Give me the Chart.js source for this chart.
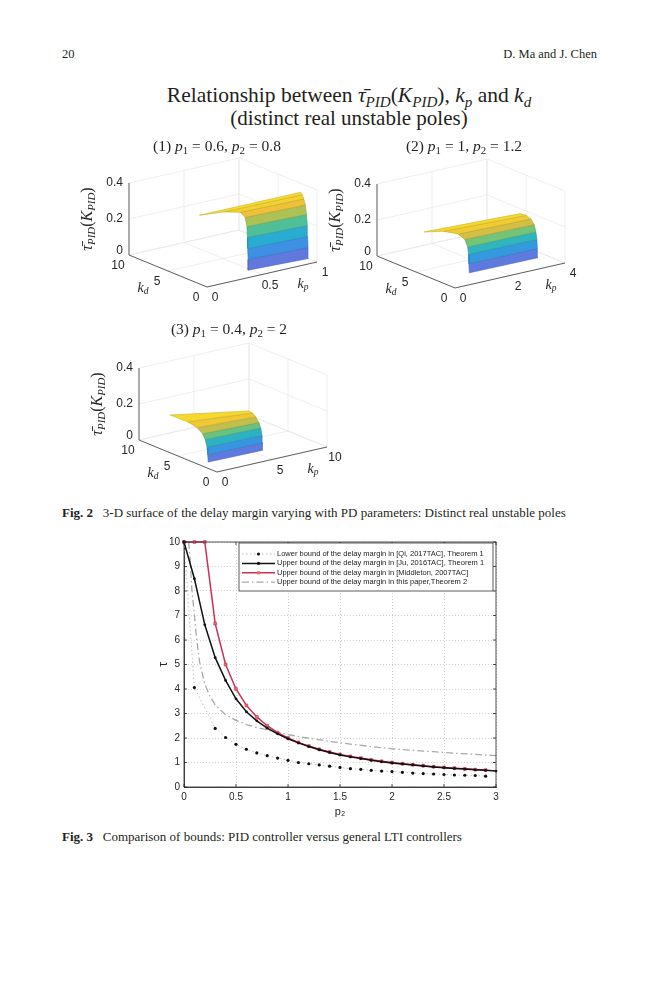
<!DOCTYPE html>
<html>
<head>
<meta charset="utf-8">
<script src="https://cdn.jsdelivr.net/npm/chart.js@4.4.0/dist/chart.umd.min.js"></script>
<style>
  body { margin: 0; width: 659px; height: 1000px; position: relative; overflow: hidden; background: #fff;
         font-family: 'Liberation Serif', serif; color: #231f20; }
  .abs { position: absolute; white-space: nowrap; z-index: 2; }
  .hdr { top: 47px; font-size: 12.5px; }
  .title { left: 0; width: 698px; text-align: center; font-size: 21.5px; }
  .sub { font-size: 15.5px; text-align: center; width: 200px; }
  sub { font-size: 70%; vertical-align: -0.3em; line-height: 0; }
  .cap { font-size: 13px; left: 62px; }
  canvas { position: absolute; z-index: 1; }
</style>
</head>
<body>
<div class="abs hdr" style="left:62px">20</div>
<div class="abs hdr" style="right:62px">D. Ma and J. Chen</div>

<div class="abs title" style="top:83px">Relationship between <i>τ̄</i><sub><i>PID</i></sub>(<i>K</i><sub><i>PID</i></sub>), <i>k<sub>p</sub></i> and <i>k<sub>d</sub></i></div>
<div class="abs title" style="top:106px;font-size:21px">(distinct real unstable poles)</div>

<div class="abs sub" style="left:117px;top:137px">(1) <i>p</i><sub>1</sub> = 0.6, <i>p</i><sub>2</sub> = 0.8</div>
<div class="abs sub" style="left:364px;top:137px">(2) <i>p</i><sub>1</sub> = 1, <i>p</i><sub>2</sub> = 1.2</div>
<div class="abs sub" style="left:129px;top:320px">(3) <i>p</i><sub>1</sub> = 0.4, <i>p</i><sub>2</sub> = 2</div>

<canvas id="fig2" width="560" height="350" style="left:60px;top:150px;width:560px;height:350px"></canvas>

<div class="abs cap" style="top:505px"><b>Fig. 2</b>&nbsp;&nbsp;&nbsp;3-D surface of the delay margin varying with PD parameters: Distinct real unstable poles</div>

<canvas id="fig3" width="366" height="296" style="left:140px;top:532px;width:366px;height:296px"></canvas>

<div class="abs cap" style="top:829px"><b>Fig. 3</b>&nbsp;&nbsp;&nbsp;Comparison of bounds: PID controller versus general LTI controllers</div>

<script>
// ---------- Fig. 3 data ----------
const p2Grid = [0, 0.1, 0.2, 0.3, 0.4, 0.5, 0.6, 0.7, 0.8, 0.9, 1.0, 1.1, 1.2, 1.3, 1.4, 1.5,
                1.6, 1.7, 1.8, 1.9, 2.0, 2.1, 2.2, 2.3, 2.4, 2.5, 2.6, 2.7, 2.8, 2.9, 3.0];
const qiTau = [10, 4.06, null, 2.39, 2.02, 1.74, 1.54, 1.39, 1.28, 1.18, 1.09, 1.0, 0.95, 0.9, 0.85, 0.8,
               0.75, 0.72, 0.68, 0.65, 0.63, 0.6, 0.57, 0.55, 0.53, 0.51, 0.49, 0.48, 0.47, 0.44, null];
const juTau = [10, 8.5, 6.62, 5.28, 4.35, 3.6, 3.07, 2.7, 2.4, 2.17, 1.97, 1.8, 1.65, 1.52, 1.41, 1.31,
               1.23, 1.16, 1.09, 1.03, 0.98, 0.94, 0.9, 0.86, 0.82, 0.79, 0.76, 0.73, 0.7, 0.68, 0.65];
const middletonTau = [10, 10, 10, 6.67, 5.0, 4.0, 3.33, 2.86, 2.5, 2.22, 2.0, 1.82, 1.67, 1.54, 1.43, 1.33,
                      1.25, 1.18, 1.11, 1.05, 1.0, 0.95, 0.91, 0.87, 0.83, 0.8, 0.77, 0.74, 0.71, 0.69, null];
const thisPaperP2 = [0.045, 0.06, 0.075, 0.1, 0.12, 0.15, 0.2, 0.25, 0.3, 0.4, 0.5, 0.6, 0.7, 0.8, 0.9,
                     1.0, 1.2, 1.4, 1.6, 1.8, 2.0, 2.2, 2.4, 2.6, 2.8, 3.0];
const thisPaperTau = [10, 9.2, 8.1, 7.0, 6.1, 5.1, 4.2, 3.7, 3.35, 2.95, 2.72, 2.55, 2.43, 2.33, 2.24,
                      2.14, 1.99, 1.86, 1.75, 1.65, 1.56, 1.5, 1.44, 1.38, 1.33, 1.28];
const seriesNames = [
  'Lower bound of the delay margin in [Qi, 2017TAC], Theorem 1',
  'Upper bound of the delay margin in [Ju, 2016TAC], Theorem 1',
  'Upper bound of the delay margin in [Middleton, 2007TAC]',
  'Upper bound of the delay margin in this paper,Theorem 2'
];

// ---------- Fig. 2 data ----------
const kdTicks = [0, 5, 10];
const tauTicks = [0, 0.2, 0.4];
const panel1KpTicks = [0, 0.5, 1];
const panel2KpTicks = [0, 2, 4];
const panel3KpTicks = [0, 5, 10];
// surface bands: tau level with left end (kp, kd) and right end (kp, kd)
const panel1Tau = [0, 0.06, 0.12, 0.18, 0.24, 0.29, 0.32, 0.34, 0.35];
const panel1KpL = [0.48, 0.48, 0.48, 0.48, 0.48, 0.47, 0.44, 0.30, 0.08];
const panel1KdL = [1.5, 1.5, 1.55, 1.6, 1.65, 1.75, 1.9, 2.0, 2.1];
const panel1KpR = [1, 1, 1, 1, 1, 1, 1, 1, 1];
const panel1KdR = [1.1, 1.15, 1.2, 1.25, 1.35, 1.5, 1.7, 1.9, 2.1];
const panel2Tau = [0, 0.05, 0.10, 0.14, 0.18, 0.21, 0.23, 0.24];
const panel2KpL = [1.2, 1.2, 1.2, 1.2, 1.15, 1.0, 0.6, 0.0];
const panel2KdL = [2.4, 2.45, 2.5, 2.6, 2.8, 3.1, 3.6, 4.0];
const panel2KpR = [3.66, 3.66, 3.66, 3.65, 3.62, 3.55, 3.45, 3.3];
const panel2KdR = [2.3, 2.35, 2.4, 2.5, 2.6, 2.8, 3.0, 3.3];
const panel3Tau = [0, 0.04, 0.08, 0.12, 0.15, 0.18, 0.20, 0.21];
const panel3KpL = [0.9, 0.9, 0.9, 0.85, 0.75, 0.55, 0.3, 0.0];
const panel3KdL = [2.4, 2.45, 2.55, 2.7, 2.9, 3.3, 4.2, 6.0];
const panel3KpR = [5.8, 5.8, 5.8, 5.75, 5.65, 5.5, 5.35, 5.2];
const panel3KdR = [2.3, 2.35, 2.4, 2.5, 2.6, 2.8, 3.0, 3.2];

// ---------- Fig. 2 (three 3-D panels drawn on one scatter chart) ----------
const KD_MAX = 10, TAU_MAX = 0.4;
const KP_VEC = [110, -25], KD_VEC = [-78, -32], TAU_PX = 180;

const panels = [
  { origin: [207, 287], kpMax: 1, kpTicks: panel1KpTicks, tau: panel1Tau, kpL: panel1KpL, kdL: panel1KdL, kpR: panel1KpR, kdR: panel1KdR },
  { origin: [455, 288], kpMax: 4, kpTicks: panel2KpTicks, tau: panel2Tau, kpL: panel2KpL, kdL: panel2KdL, kpR: panel2KpR, kdR: panel2KdR },
  { origin: [217, 472], kpMax: 10, kpTicks: panel3KpTicks, tau: panel3Tau, kpL: panel3KpL, kdL: panel3KdL, kpR: panel3KpR, kdR: panel3KdR }
];

function proj(p, kp, kd, tau) {
  const u = kp / p.kpMax, v = kd / KD_MAX;
  return {
    x: p.origin[0] + u * KP_VEC[0] + v * KD_VEC[0],
    y: p.origin[1] + u * KP_VEC[1] + v * KD_VEC[1] - tau * TAU_PX
  };
}

const parula = [
  [0, [118, 112, 214]], [0.2, [70, 134, 230]], [0.4, [38, 168, 218]], [0.55, [52, 188, 175]],
  [0.7, [132, 198, 102]], [0.85, [236, 188, 58]], [1, [248, 222, 44]]
];
function parulaColor(t, k) {
  k = k || 1;
  for (let i = 1; i < parula.length; i++) {
    if (t <= parula[i][0]) {
      const a = parula[i - 1], b = parula[i];
      const f = (t - a[0]) / (b[0] - a[0]);
      const c = a[1].map((v, j) => Math.round((v + (b[1][j] - v) * f) * k));
      return 'rgb(' + c.join(',') + ')';
    }
  }
  return 'rgb(248,222,44)';
}

let dsCount = 0;
const fig2Sets = [];
function addLine(points, color, width, fill, bg) {
  dsCount++;
  fig2Sets.push({
    data: points, showLine: true, borderColor: color, borderWidth: width,
    fill: fill ? 'shape' : false, backgroundColor: bg || 'transparent',
    pointRadius: 0, order: -dsCount
  });
}

panels.forEach(p => {
  const grid = '#e6e6e6';
  // floor grid
  p.kpTicks.forEach(kp => addLine([proj(p, kp, 0, 0), proj(p, kp, KD_MAX, 0)], grid, 0.7));
  kdTicks.forEach(kd => addLine([proj(p, 0, kd, 0), proj(p, p.kpMax, kd, 0)], grid, 0.7));
  // back wall kd = max
  p.kpTicks.forEach(kp => addLine([proj(p, kp, KD_MAX, 0), proj(p, kp, KD_MAX, TAU_MAX)], grid, 0.7));
  tauTicks.forEach(t => addLine([proj(p, 0, KD_MAX, t), proj(p, p.kpMax, KD_MAX, t)], grid, 0.7));
  // back wall kp = max
  kdTicks.forEach(kd => addLine([proj(p, p.kpMax, kd, 0), proj(p, p.kpMax, kd, TAU_MAX)], grid, 0.7));
  tauTicks.forEach(t => addLine([proj(p, p.kpMax, 0, t), proj(p, p.kpMax, KD_MAX, t)], grid, 0.7));
  // axes
  const ax = '#3a3a3a';
  addLine([proj(p, 0, 0, 0), proj(p, p.kpMax, 0, 0)], ax, 0.8);
  addLine([proj(p, 0, 0, 0), proj(p, 0, KD_MAX, 0)], ax, 0.8);
  addLine([proj(p, 0, KD_MAX, 0), proj(p, 0, KD_MAX, TAU_MAX)], ax, 0.8);
  // surface bands
  const top = Math.max(...p.tau);
  for (let i = 0; i < p.tau.length - 1; i++) {
    const a = proj(p, p.kpL[i], p.kdL[i], p.tau[i]);
    const b = proj(p, p.kpR[i], p.kdR[i], p.tau[i]);
    const c = proj(p, p.kpR[i + 1], p.kdR[i + 1], p.tau[i + 1]);
    const d = proj(p, p.kpL[i + 1], p.kdL[i + 1], p.tau[i + 1]);
    const t = (p.tau[i] + p.tau[i + 1]) / 2 / top;
    addLine([a, b, c, d, a], parulaColor(t, 0.82), 0.6, true, parulaColor(t));
  }
});

function drawRuns(ctx, runs, x, y, size, rotate) {
  ctx.save();
  ctx.translate(x, y);
  if (rotate) ctx.rotate(-Math.PI / 2);
  ctx.textBaseline = 'middle';
  ctx.textAlign = 'left';
  const fontOf = r => (r.italic ? 'italic ' : '') + (r.sub ? size * 0.68 : size) + 'px "Liberation Serif"';
  let w = 0;
  runs.forEach(r => { ctx.font = fontOf(r); w += ctx.measureText(r.t).width; });
  let cx = -w / 2;
  runs.forEach(r => {
    ctx.font = fontOf(r);
    ctx.fillText(r.t, cx, r.sub ? size * 0.28 : 0);
    cx += ctx.measureText(r.t).width;
  });
  ctx.restore();
}

const yLabelRuns = [{ t: 'τ̄', italic: true }, { t: 'PID', italic: true, sub: true }, { t: '(' },
                    { t: 'K', italic: true }, { t: 'PID', italic: true, sub: true }, { t: ')' }];
const kdRuns = [{ t: 'k', italic: true }, { t: 'd', italic: true, sub: true }];
const kpRuns = [{ t: 'k', italic: true }, { t: 'p', italic: true, sub: true }];

const panelLabels = {
  id: 'panelLabels',
  afterDatasetsDraw(chart) {
    const { ctx, scales } = chart;
    const px = pt => ({ x: scales.x.getPixelForValue(pt.x), y: scales.y.getPixelForValue(pt.y) });
    ctx.save();
    ctx.fillStyle = '#262626';
    panels.forEach(p => {
      ctx.font = '12px "Liberation Sans"';
      ctx.textBaseline = 'middle';
      ctx.textAlign = 'center';
      p.kpTicks.forEach(kp => {
        const q = px(proj(p, kp, 0, 0));
        ctx.fillText(String(kp), q.x + 8, q.y + 11);
      });
      kdTicks.forEach(kd => {
        const q = px(proj(p, 0, kd, 0));
        ctx.fillText(String(kd), q.x - 11, q.y + 11);
      });
      ctx.textAlign = 'right';
      tauTicks.forEach(t => {
        const q = px(proj(p, 0, KD_MAX, t));
        ctx.fillText(String(t), q.x - 6, t === 0 ? q.y - 4 : q.y);
      });
      const o = px({ x: p.origin[0], y: p.origin[1] });
      drawRuns(ctx, kdRuns, o.x - 64, o.y + 1, 14, false);
      drawRuns(ctx, kpRuns, o.x + 96, o.y - 3, 14, false);
      drawRuns(ctx, yLabelRuns, o.x - 119, o.y - 68, 16, true);
    });
    ctx.restore();
  }
};

new Chart(document.getElementById('fig2'), {
  type: 'scatter',
  data: { datasets: fig2Sets },
  options: {
    responsive: false,
    animation: false,
    layout: { padding: 0 },
    plugins: { legend: { display: false }, tooltip: { enabled: false } },
    scales: {
      x: { type: 'linear', min: 60, max: 620, display: false },
      y: { type: 'linear', min: 150, max: 500, reverse: true, display: false }
    }
  },
  plugins: [panelLabels]
});

// ---------- Fig. 3 ----------
function toPoints(xs, ys) {
  return xs.map((x, i) => ({ x: x, y: ys[i] }));
}

const fig3Sets = [{
  label: seriesNames[0],
  data: toPoints(p2Grid, qiTau),
  showLine: true, spanGaps: true,
  borderColor: '#bdbdbd', borderWidth: 1, borderDash: [1.5, 2.5],
  pointRadius: 1.6, pointBackgroundColor: '#111', pointBorderWidth: 0,
  marker: 'dot'
}, {
  label: seriesNames[1],
  data: toPoints(p2Grid, juTau),
  showLine: true,
  borderColor: '#111', borderWidth: 1.5,
  pointRadius: 1.4, pointBackgroundColor: '#111', pointBorderWidth: 0,
  marker: 'dot'
}, {
  label: seriesNames[2],
  data: toPoints(p2Grid, middletonTau),
  showLine: true,
  borderColor: '#cc2f52', borderWidth: 1.5,
  pointStyle: 'rect', pointRadius: 2, pointBackgroundColor: '#ea6a6e', pointBorderColor: '#cc2f52', pointBorderWidth: 0.6,
  marker: 'rect'
}, {
  label: seriesNames[3],
  data: toPoints(thisPaperP2, thisPaperTau),
  showLine: true,
  borderColor: '#a9a9a9', borderWidth: 1.3, borderDash: [7, 3, 1.5, 3],
  pointRadius: 0,
  marker: 'none'
}];

const boxFrame = {
  id: 'boxFrame',
  afterDatasetsDraw(chart) {
    const { ctx, chartArea: a, scales } = chart;
    ctx.save();
    ctx.strokeStyle = '#262626';
    ctx.lineWidth = 0.8;
    ctx.strokeRect(a.left, a.top, a.right - a.left, a.bottom - a.top);
    ctx.beginPath();
    scales.x.ticks.forEach(t => {
      const x = scales.x.getPixelForValue(t.value);
      ctx.moveTo(x, a.bottom); ctx.lineTo(x, a.bottom - 3);
      ctx.moveTo(x, a.top); ctx.lineTo(x, a.top + 3);
    });
    scales.y.ticks.forEach(t => {
      const y = scales.y.getPixelForValue(t.value);
      ctx.moveTo(a.left, y); ctx.lineTo(a.left + 3, y);
      ctx.moveTo(a.right, y); ctx.lineTo(a.right - 3, y);
    });
    ctx.stroke();
    ctx.restore();
  }
};

const insideLegend = {
  id: 'insideLegend',
  afterDraw(chart) {
    const { ctx, chartArea: a } = chart;
    const w = 254, h = 48;
    const left = a.right - w - 3, top = a.top + 1;
    ctx.save();
    ctx.fillStyle = '#fff';
    ctx.fillRect(left, top, w, h);
    ctx.strokeStyle = '#333';
    ctx.lineWidth = 0.8;
    ctx.strokeRect(left, top, w, h);
    chart.data.datasets.forEach((ds, i) => {
      const y = top + 11 + i * 9.4;
      ctx.setLineDash(ds.borderDash || []);
      ctx.strokeStyle = ds.borderColor;
      ctx.lineWidth = ds.borderWidth;
      ctx.beginPath();
      ctx.moveTo(left + 3, y);
      ctx.lineTo(left + 36, y);
      ctx.stroke();
      ctx.setLineDash([]);
      if (ds.marker === 'dot') {
        ctx.fillStyle = '#111';
        ctx.beginPath();
        ctx.arc(left + 19.5, y, 1.6, 0, Math.PI * 2);
        ctx.fill();
      } else if (ds.marker === 'rect') {
        ctx.fillStyle = ds.pointBackgroundColor;
        ctx.fillRect(left + 18, y - 1.6, 3.2, 3.2);
      }
      ctx.fillStyle = '#222';
      ctx.font = '7.5px "Liberation Sans"';
      ctx.textBaseline = 'middle';
      ctx.textAlign = 'left';
      ctx.fillText(ds.label, left + 38, y);
    });
    ctx.restore();
  }
};

const tickFont = { family: 'Liberation Sans', size: 10 };
new Chart(document.getElementById('fig3'), {
  type: 'scatter',
  data: { datasets: fig3Sets },
  options: {
    responsive: false,
    animation: false,
    clip: false,
    layout: { padding: { top: 10, right: 10, left: 0, bottom: 0 } },
    plugins: { legend: { display: false }, tooltip: { enabled: false } },
    scales: {
      x: {
        type: 'linear', min: 0, max: 3,
        ticks: { stepSize: 0.5, font: tickFont, color: '#262626', padding: 4, maxRotation: 0,
                 callback: v => String(Math.round(v * 10) / 10) },
        grid: { color: '#cfcfcf', drawTicks: false },
        border: { display: true, color: '#262626', width: 0.8, dash: [1, 2] },
        title: { display: true, text: 'p₂', font: { family: 'Liberation Sans', size: 11 }, color: '#262626', padding: { top: 0, bottom: 9 } },
        afterFit(scale) { scale.height = 41; }
      },
      y: {
        type: 'linear', min: 0, max: 10,
        ticks: { stepSize: 1, font: tickFont, color: '#262626', padding: 4 },
        grid: { color: '#cfcfcf', drawTicks: false },
        border: { display: true, color: '#262626', width: 0.8, dash: [1, 2] },
        title: { display: true, text: 'τ', font: { family: 'Liberation Sans', size: 12 }, color: '#262626', padding: { top: 16, bottom: 0 } },
        afterFit(scale) { scale.width = 44; }
      }
    }
  },
  plugins: [boxFrame, insideLegend]
});
</script>
</body>
</html>
